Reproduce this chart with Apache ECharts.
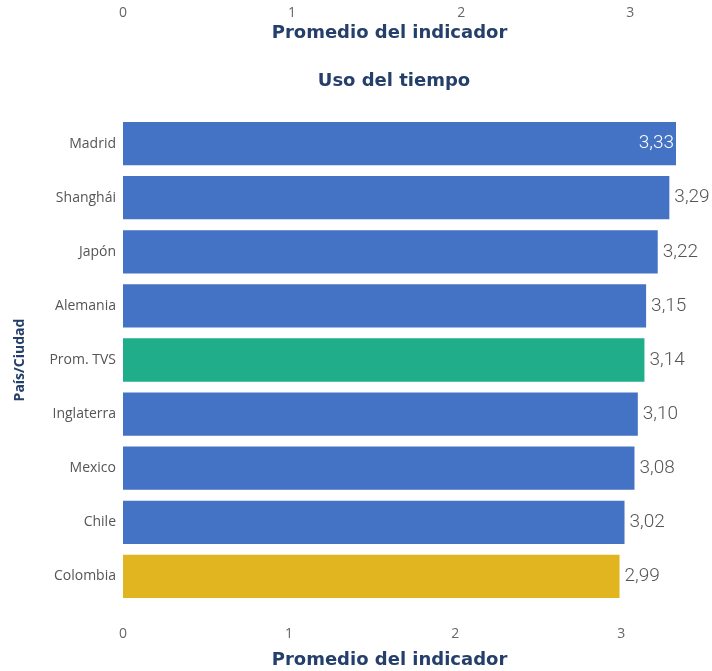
<!DOCTYPE html>
<html><head><meta charset="utf-8">
<script src="https://cdn.jsdelivr.net/npm/echarts@6/dist/echarts.min.js"></script>
<style>html,body{margin:0;padding:0;background:#fff}#c{width:712px;height:671px}</style>
</head><body><div id="c"></div>
<script>
const categories = ['Madrid','Shanghái','Japón','Alemania','Prom. TVS','Inglaterra','Mexico','Chile','Colombia'];
const values = [3.33,3.29,3.22,3.15,3.14,3.10,3.08,3.02,2.99];
const barColors = ['#4472C4','#4472C4','#4472C4','#4472C4','#1FAD8A','#4472C4','#4472C4','#4472C4','#E0B520'];
const xTicks = [0,1,2,3];
const titleText = 'Uso del tiempo';
const xName = 'Promedio del indicador';
const yName = 'País/Ciudad';

const navy = '#253F6B';
const headFont = 'DejaVu Sans';
const chart = echarts.init(document.getElementById('c'), null, {renderer:'canvas'});
const fmt = v => v.toFixed(2).replace('.', ',');
const nameStyle = {fontFamily:headFont,fontWeight:'bold',fontSize:18,color:navy,padding:[0,20,0,0]};
chart.setOption({
  animation:false,
  title:{text:titleText,left:389,textAlign:'center',top:67,textStyle:{fontFamily:headFont,fontWeight:'bold',fontSize:18,color:navy}},
  grid:{left:123,right:36,top:116.5,bottom:67.5,containLabel:false,outerBoundsMode:'none'},
  xAxis:[
    {type:'value',position:'bottom',min:0,max:3.33,interval:1,
     axisLine:{show:false},axisTick:{show:false},splitLine:{show:false},
     axisLabel:{margin:24,fontFamily:'Open Sans',fontSize:14,color:'#666',customValues:xTicks},
     name:xName,nameLocation:'middle',nameGap:48,nameMoveOverlap:false,
     nameTextStyle:nameStyle},
    {type:'value',position:'top',min:0,max:3.27,interval:1,offset:88,
     axisLine:{show:false},axisTick:{show:false},splitLine:{show:false},
     axisLabel:{margin:8,fontFamily:'Open Sans',fontSize:14,color:'#666',customValues:xTicks},
     name:xName,nameLocation:'middle',nameGap:-14,nameMoveOverlap:false,
     nameTextStyle:nameStyle}
  ],
  yAxis:{type:'category',data:categories,inverse:true,
    axisLine:{show:false},axisTick:{show:false},
    axisLabel:{margin:7,fontFamily:'Open Sans',fontSize:14,color:'#555'},
    name:yName,nameLocation:'middle',nameGap:96,nameMoveOverlap:false,
    nameTextStyle:{fontFamily:'Open Sans',fontWeight:'bold',fontSize:14,color:navy}},
  series:[{type:'bar',xAxisIndex:0,barCategoryGap:'20%',
    data:values.map((v,i)=>({value:v,itemStyle:{color:barColors[i]},
      label: i===0 ? {position:'insideRight',distance:2,color:'#fff'} : {}})),
    label:{show:true,position:'right',distance:5,formatter:p=>fmt(p.value),
      fontFamily:'Roboto',fontWeight:300,fontSize:19,color:'#555'}}]
});
</script></body></html>
